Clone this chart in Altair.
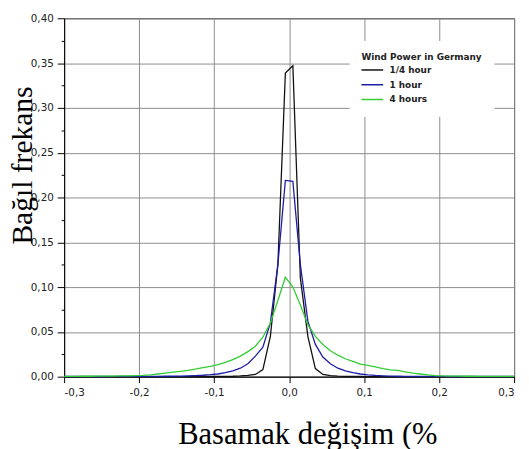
import altair as alt
import pandas as pd

# ---- data ----
X = [-0.300, -0.295, -0.285, -0.275, -0.265, -0.255, -0.245, -0.235, -0.225, -0.215, -0.205,
     -0.195, -0.185, -0.175, -0.165, -0.155, -0.145, -0.135, -0.125, -0.115, -0.105,
     -0.095, -0.085, -0.075, -0.065, -0.055, -0.045, -0.035, -0.025, -0.015, -0.005,
     0.005, 0.015, 0.025, 0.035, 0.045, 0.055, 0.065, 0.075, 0.085, 0.095,
     0.105, 0.115, 0.125, 0.135, 0.145, 0.155, 0.165, 0.175, 0.185, 0.195,
     0.205, 0.215, 0.225, 0.235, 0.245, 0.255, 0.265, 0.275, 0.285, 0.295, 0.300]

QUARTER_HOUR = [0.0001, 0.0001, 0.0001, 0.0001, 0.0001, 0.0001, 0.0001, 0.0001, 0.0001, 0.0001, 0.0001,
                0.0001, 0.0001, 0.0001, 0.0001, 0.0001, 0.0001, 0.0001, 0.0002, 0.0002, 0.0002,
                0.0003, 0.0004, 0.0005, 0.0008, 0.0014, 0.0025, 0.008, 0.045, 0.125, 0.339,
                0.347, 0.110, 0.045, 0.009, 0.0025, 0.0012, 0.0007, 0.0004, 0.0003, 0.0002,
                0.0001, 0.0001, 0.0001, 0.0001, 0.0001, 0.0001, 0.0001, 0.0001, 0.0001, 0.0001,
                0.0001, 0.0001, 0.0001, 0.0001, 0.0001, 0.0001, 0.0001, 0.0001, 0.0001, 0.0001, 0.0001]

ONE_HOUR = [0.0002, 0.0002, 0.0002, 0.0002, 0.0002, 0.0002, 0.0002, 0.0003, 0.0003, 0.0003, 0.0003,
            0.0003, 0.0004, 0.0004, 0.0005, 0.0006, 0.0007, 0.0009, 0.0012, 0.0016, 0.0022,
            0.0030, 0.0045, 0.0065, 0.0095, 0.0145, 0.023, 0.033, 0.060, 0.125, 0.219,
            0.218, 0.125, 0.062, 0.036, 0.022, 0.0145, 0.0095, 0.0065, 0.0045, 0.0030,
            0.0020, 0.0014, 0.0010, 0.0007, 0.0005, 0.0004, 0.0003, 0.0003, 0.0003, 0.0003,
            0.0003, 0.0002, 0.0002, 0.0002, 0.0002, 0.0002, 0.0002, 0.0002, 0.0002, 0.0002, 0.0002]

FOUR_HOURS = [0.0004, 0.0004, 0.0004, 0.0005, 0.0005, 0.0006, 0.0006, 0.0007, 0.0008, 0.0009, 0.0011,
              0.0014, 0.0020, 0.0030, 0.0040, 0.0050, 0.0060, 0.0070, 0.0085, 0.0100, 0.0115,
              0.0135, 0.016, 0.019, 0.023, 0.028, 0.034, 0.044, 0.060, 0.085, 0.111,
              0.100, 0.080, 0.058, 0.045, 0.036, 0.029, 0.024, 0.020, 0.017, 0.014,
              0.0125, 0.0110, 0.0090, 0.0077, 0.0070, 0.0055, 0.0040, 0.0030, 0.0020, 0.0013,
              0.0009, 0.0007, 0.0006, 0.0005, 0.0005, 0.0004, 0.0004, 0.0003, 0.0003, 0.0003, 0.0003]

SERIES = ["1/4 hour", "1 hour", "4 hours"]
COLORS = ["#111111", "#1c1ca8", "#33cc33"]

X_TICKS = [-0.3, -0.2, -0.1, 0.0, 0.1, 0.2, 0.3]
Y_TICKS = [0.0, 0.05, 0.10, 0.15, 0.20, 0.25, 0.30, 0.35, 0.40]
Y_MINOR = [0.025, 0.075, 0.125, 0.175, 0.225, 0.275, 0.325, 0.375]

rows = []
for s_i, (name, vals) in enumerate(zip(SERIES, [QUARTER_HOUR, ONE_HOUR, FOUR_HOURS])):
    for x, y in zip(X, vals):
        rows.append({"x": x, "y": y, "series": name, "order": s_i})
df = pd.DataFrame(rows)

x_enc = alt.X(
    "x:Q",
    scale=alt.Scale(domain=[-0.3, 0.3], nice=False, zero=False),
    axis=alt.Axis(
        values=X_TICKS,
        labelExpr="replace(replace(format(datum.value, '.1f'), '.', ','), '\u2212', '-')",
        title="Basamak değişim (%",
        titleFont="Liberation Serif",
        titleFontSize=31,
        titleFontWeight="normal",
        titleColor="#000000",
        titleAlign="center",
        titleBaseline="alphabetic",
        titleX=247,
        titleY=68,
        tickSize=6,
        labelPadding=5,
        grid=True,
    ),
)

y_scale = alt.Scale(domain=[0, 0.4], nice=False, zero=True)

lines = alt.Chart(df).mark_line(strokeWidth=1.3, interpolate="linear").encode(
    x=x_enc,
    y=alt.Y(
        "y:Q",
        scale=y_scale,
        axis=alt.Axis(
            values=Y_TICKS,
            labelExpr="replace(format(datum.value, '.2f'), '.', ',')",
            title="Bağıl frekans",
            titleFont="Liberation Serif",
            titleFontSize=30,
            titleFontWeight="normal",
            titleColor="#000000",
            titleAngle=270,
            titleAlign="center",
            titleBaseline="alphabetic",
            titleX=-33,
            titleY=149,
            tickSize=7,
            labelPadding=4,
            grid=True,
            orient="left",
        ),
    ),
    color=alt.Color(
        "series:N",
        scale=alt.Scale(domain=SERIES, range=COLORS),
        sort=SERIES,
        legend=alt.Legend(
            title="Wind Power in Germany",
            orient="none",
            legendX=290,
            legendY=23,
            fillColor="white",
            padding=12,
            titleFont="DejaVu Sans",
            titleFontWeight="bold",
            titleFontSize=9,
            titleColor="#222222",
            titlePadding=2,
            labelFont="DejaVu Sans",
            labelFontWeight="bold",
            labelFontSize=9,
            labelColor="#222222",
            symbolType="M-2,0H2",
            symbolSize=121,
            symbolStrokeWidth=1.5,
            symbolOffset=4.5,
            labelOffset=11,
            rowPadding=3,
        ),
    ),
    order=alt.Order("order:Q"),
    detail="series:N",
)

minor = alt.Chart(df).mark_line(opacity=0).encode(
    x=alt.X("x:Q", scale=alt.Scale(domain=[-0.3, 0.3], nice=False, zero=False)),
    y=alt.Y(
        "y:Q",
        scale=y_scale,
        axis=alt.Axis(
            values=Y_MINOR,
            labels=False,
            grid=False,
            domain=False,
            tickSize=3,
            title=None,
            orient="left",
        ),
    ),
    detail="series:N",
)

chart = (
    alt.layer(lines, minor)
    .resolve_axis(y="independent")
    .properties(
        width=457,
        height=364,
        autosize=alt.AutoSizeParams(type="none"),
        padding={"left": 57, "top": 7, "right": 7, "bottom": 70},
    )
    .configure_view(stroke="#000000", strokeWidth=1)
    .configure_axis(
        domainColor="#000000",
        domainWidth=1,
        tickColor="#000000",
        tickWidth=1,
        gridColor="#8c8c8c",
        gridWidth=1,
        labelFont="DejaVu Sans",
        labelFontSize=10.5,
        labelColor="#222222",
    )
)

chart.save("out.html", embed_options={"renderer": "svg", "actions": False})
